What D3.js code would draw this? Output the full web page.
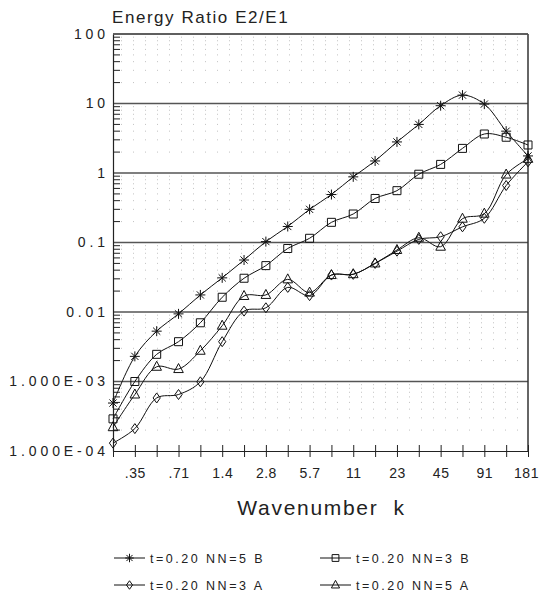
<!DOCTYPE html>
<html>
<head>
<meta charset="utf-8">
<script src="https://cdn.jsdelivr.net/npm/d3@7"></script>
<style>
  body { margin: 0; background: #fff; }
  svg { display: block; }
  text { font-family: "Liberation Sans", "DejaVu Sans", sans-serif; fill: #222; }
</style>
</head>
<body>
<svg id="chart" width="539" height="595"></svg>
<script>
// Wavenumbers sampled every half octave
const wavenumbers = [0.25, 0.3536, 0.5, 0.7071, 1, 1.414, 2, 2.828, 4, 5.657,
                     8, 11.31, 16, 22.63, 32, 45.25, 64, 90.51, 128, 181];
const xTickLabels = ["", ".35", "", ".71", "", "1.4", "", "2.8", "", "5.7",
                     "", "11", "", "23", "", "45", "", "91", "", "181"];
const yTickValues = [1e-4, 1e-3, 0.01, 0.1, 1, 10, 100];
const yTickLabels = ["1.000E-04", "1.000E-03", "0.01", "0.1", "1", "10", "100"];

// Energy ratio E2/E1 for each run
const ratioNN5B = [4.9e-4, 2.3e-3, 5.3e-3, 9.4e-3, 0.0176, 0.031, 0.056, 0.103, 0.17, 0.30,
                   0.49, 0.88, 1.49, 2.8, 5.0, 9.3, 13.2, 9.8, 4.0, 1.76];
const ratioNN3B = [2.9e-4, 1.0e-3, 2.46e-3, 3.74e-3, 7.0e-3, 0.0163, 0.0306, 0.0465, 0.082, 0.115,
                   0.195, 0.257, 0.43, 0.557, 0.96, 1.33, 2.26, 3.64, 3.27, 2.53];
const ratioNN3A = [1.3e-4, 2.1e-4, 5.8e-4, 6.5e-4, 9.9e-4, 3.74e-3, 0.0103, 0.0115, 0.0226, 0.0172,
                   0.034, 0.0348, 0.050, 0.075, 0.111, 0.121, 0.168, 0.223, 0.66, 1.45];
const ratioNN5A = [2.2e-4, 6.5e-4, 1.63e-3, 1.51e-3, 2.77e-3, 6.35e-3, 0.017, 0.0176, 0.0295, 0.019,
                   0.034, 0.035, 0.050, 0.078, 0.117, 0.087, 0.22, 0.26, 0.95, 1.6];

const seriesNames = ["t=0.20 NN=5 B", "t=0.20 NN=3 B", "t=0.20 NN=3 A", "t=0.20 NN=5 A"];
const seriesValues = [ratioNN5B, ratioNN3B, ratioNN3A, ratioNN5A];
const seriesMarkers = ["star", "square", "diamond", "triangle"];

const svg = d3.select("#chart");
const plotLeft = 113, plotRight = 528, plotTop = 34, plotBottom = 451;

const x = d3.scaleLog().base(2).domain([0.25, 181]).range([plotLeft, plotRight]);
const y = d3.scaleLog().domain([1e-4, 100]).range([plotBottom, plotTop]);

// Minor log values inside each decade
const minorValues = [];
for (let e = -4; e < 2; e++) {
  for (let m = 2; m <= 9; m++) minorValues.push(m * Math.pow(10, e));
}

// Stippled minor grid
svg.append("g")
  .selectAll("line")
  .data(minorValues)
  .join("line")
  .attr("x1", plotLeft + 8).attr("x2", plotRight)
  .attr("y1", d => y(d)).attr("y2", d => y(d))
  .attr("stroke", "#9a9a9a")
  .attr("stroke-width", 1)
  .attr("stroke-dasharray", "1,11")
  .attr("opacity", 0.6);

// Decade grid lines
svg.append("g")
  .selectAll("line")
  .data(yTickValues.slice(1))
  .join("line")
  .attr("x1", plotLeft).attr("x2", plotRight)
  .attr("y1", d => y(d)).attr("y2", d => y(d))
  .attr("stroke", "#555")
  .attr("stroke-width", 1.3);

// Right frame
svg.append("line")
  .attr("x1", plotRight).attr("x2", plotRight)
  .attr("y1", plotTop).attr("y2", plotBottom)
  .attr("stroke", "#333").attr("stroke-width", 1.5);

// Minor ticks along the left axis
svg.append("g")
  .selectAll("line")
  .data(minorValues)
  .join("line")
  .attr("x1", plotLeft).attr("x2", plotLeft + 7)
  .attr("y1", d => y(d)).attr("y2", d => y(d))
  .attr("stroke", "#222").attr("stroke-width", 1);

// Y axis
const yAxis = svg.append("g")
  .attr("transform", `translate(${plotLeft},0)`)
  .call(d3.axisLeft(y)
    .tickValues(yTickValues)
    .tickFormat((d, i) => yTickLabels[i])
    .tickSize(0)
    .tickPadding(4));
yAxis.select(".domain").attr("stroke", "#222").attr("stroke-width", 1.2);
yAxis.selectAll("text")
  .attr("font-size", 14)
  .attr("letter-spacing", 3.9)
  .style("font-family", "\"Liberation Sans\", sans-serif")
  .attr("fill", "#222");

// X axis with ticks crossing the axis line
const xAxis = svg.append("g")
  .attr("transform", `translate(0,${plotBottom})`)
  .call(d3.axisBottom(x)
    .tickValues(wavenumbers)
    .tickFormat((d, i) => xTickLabels[i])
    .tickSizeInner(6)
    .tickSizeOuter(0)
    .tickPadding(11));
xAxis.select(".domain").attr("stroke", "#222").attr("stroke-width", 1.2);
xAxis.selectAll(".tick line").attr("y1", -6).attr("stroke", "#222");
xAxis.selectAll("text")
  .attr("font-size", 14)
  .attr("letter-spacing", 0.5)
  .style("font-family", "\"Liberation Sans\", sans-serif")
  .attr("fill", "#222")
  .attr("dx", (d, i) => i === wavenumbers.length - 1 ? -2 : 0);

// Top frame
svg.append("line")
  .attr("x1", plotLeft).attr("x2", plotRight)
  .attr("y1", plotTop).attr("y2", plotTop)
  .attr("stroke", "#555").attr("stroke-width", 1.3);

// Marker shapes
function markerPath(type, s) {
  if (type === "star") {
    const r = 5 * s, q = r * 0.72;
    return `M0,${-r}L0,${r}M${-r},0L${r},0M${-q},${-q}L${q},${q}M${-q},${q}L${q},${-q}`;
  }
  if (type === "square") {
    const h = 4 * s;
    return `M${-h},${-h}L${h},${-h}L${h},${h}L${-h},${h}Z`;
  }
  if (type === "diamond") {
    const w = 3.6 * s, h = 5 * s;
    return `M0,${-h}L${w},0L0,${h}L${-w},0Z`;
  }
  const w = 4.8 * s;
  return `M0,${-5.5 * s}L${w},${3.5 * s}L${-w},${3.5 * s}Z`;
}

const line = d3.line()
  .x((d, i) => x(wavenumbers[i]))
  .y(d => y(d))
  .curve(d3.curveCatmullRom.alpha(0.5));

seriesValues.forEach((vals, si) => {
  const g = svg.append("g");
  g.append("path")
    .attr("d", line(vals))
    .attr("fill", "none")
    .attr("stroke", "#111")
    .attr("stroke-width", 1);
  g.selectAll("path.mark")
    .data(vals)
    .join("path")
    .attr("class", "mark")
    .attr("transform", (d, i) => `translate(${x(wavenumbers[i])},${y(d)})`)
    .attr("d", markerPath(seriesMarkers[si], 1))
    .attr("fill", "none")
    .attr("stroke", "#111")
    .attr("stroke-width", 1);
});

// Titles
svg.append("text")
  .attr("x", 112).attr("y", 23)
  .attr("font-size", 17)
  .attr("letter-spacing", 1.55)
  .text("Energy Ratio E2/E1");

svg.append("text")
  .attr("x", (plotLeft + plotRight) / 2 + 1).attr("y", 515)
  .attr("text-anchor", "middle")
  .attr("font-size", 21)
  .attr("letter-spacing", 1.7)
  .style("white-space", "pre")
  .text("Wavenumber  k");

// Legend, two columns
const legendCols = [114, 320];
const legendRows = [558, 585];
seriesNames.forEach((name, i) => {
  const lx = legendCols[i % 2], ly = legendRows[Math.floor(i / 2)];
  const g = svg.append("g").attr("transform", `translate(${lx},${ly})`);
  g.append("line").attr("x1", 0).attr("x2", 31).attr("y1", 0).attr("y2", 0)
    .attr("stroke", "#111").attr("stroke-width", 1);
  g.append("path")
    .attr("transform", "translate(15.5,0)")
    .attr("d", markerPath(seriesMarkers[i], 0.85))
    .attr("fill", "none").attr("stroke", "#111").attr("stroke-width", 1);
  g.append("text")
    .attr("x", 36).attr("y", 0).attr("dy", "0.36em")
    .attr("font-size", 12.5)
    .attr("letter-spacing", 2.5)
    .text(name);
});
</script>
</body>
</html>
